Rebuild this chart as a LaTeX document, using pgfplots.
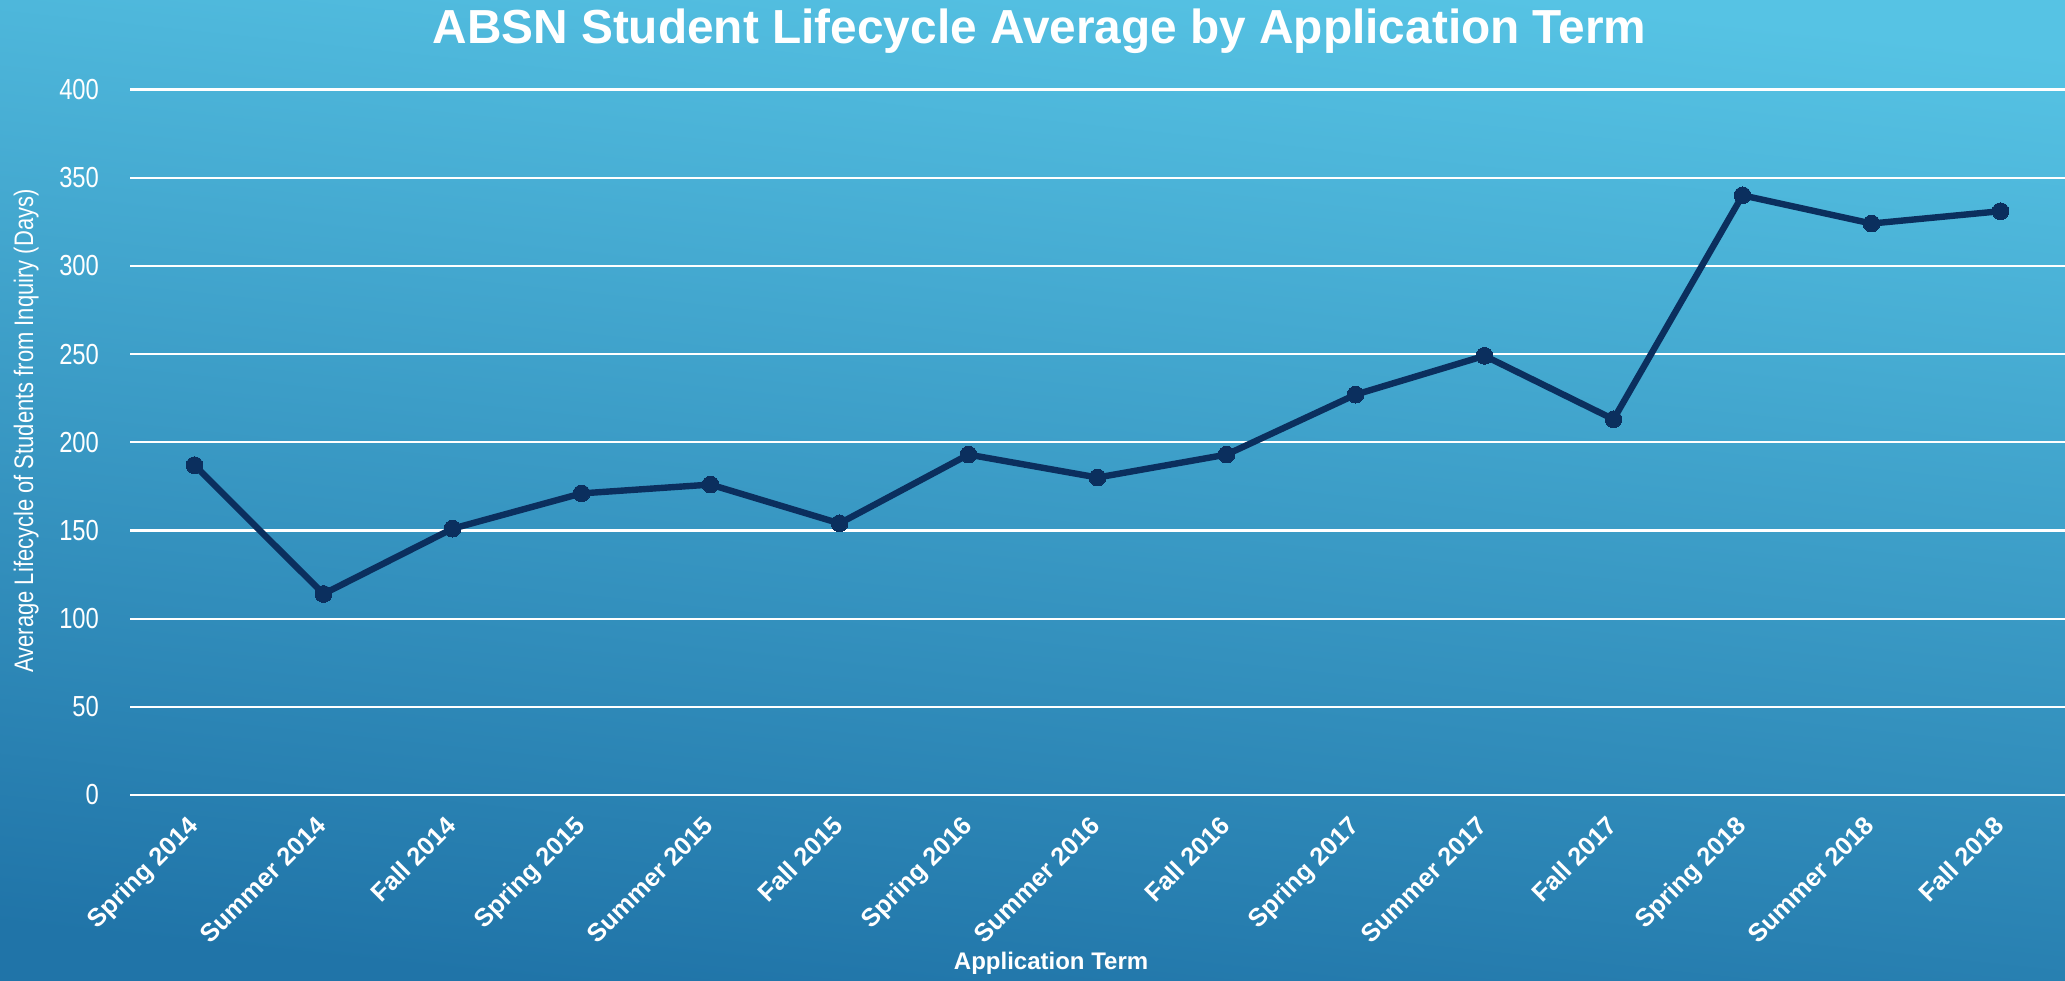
\documentclass[border=0pt]{standalone}
\usepackage{fontspec}
\setmainfont{Liberation Sans}
\newfontfamily\narrowfont[FakeStretch=0.82]{Liberation Sans}
\usepackage{pgfplots}
\pgfplotsset{compat=1.18}
\definecolor{bgtop}{RGB}{86,195,228}
\definecolor{bgbot}{RGB}{32,116,168}
\definecolor{linec}{RGB}{11,47,94}
\begin{document}
\begin{tikzpicture}
\useasboundingbox (0,0) rectangle (1032.5pt,490pt);
\shade[top color=bgtop, bottom color=bgbot, shading angle=-6] (0,0) rectangle (1032.5pt,490pt);
\begin{axis}[
  at={(65pt,92.5pt)}, anchor=south west,
  scale only axis, width=967.5pt, height=352.75pt,
  xmin=-0.5, xmax=14.5, ymin=0, ymax=400,
  ytick={0,50,...,400},
  xtick={0,...,14},
  xticklabels={Spring 2014,Summer 2014,Fall 2014,Spring 2015,Summer 2015,Fall 2015,Spring 2016,Summer 2016,Fall 2016,Spring 2017,Summer 2017,Fall 2017,Spring 2018,Summer 2018,Fall 2018},
  axis line style={draw=none},
  major tick length=0pt,
  ymajorgrids, grid style={white, line width=1.1pt},
  yticklabel style={font=\narrowfont\fontsize{14.5}{16}\selectfont, text=white, xshift=-12pt},
  xticklabel style={font=\bfseries\fontsize{12.7}{14}\selectfont, text=white, rotate=45, anchor=north east, yshift=-0.5pt, xshift=-6.5pt},
  /pgf/number format/assume math mode=true,
  ylabel={Average Lifecycle of Students from Inquiry (Days)},
  ylabel style={font=\narrowfont\fontsize{13.4}{15}\selectfont, text=white, at={(axis description cs:-0.0537,0.516)}, anchor=center},
  xlabel={Application Term},
  xlabel style={font=\bfseries\fontsize{12}{14}\selectfont, text=white, at={(axis description cs:0.476,-0.238)}, anchor=center},
  title={ABSN Student Lifecycle Average by Application Term},
  title style={font=\bfseries\fontsize{23.9}{26}\selectfont, text=white, at={(axis description cs:0.470,1.065)}, anchor=center, yshift=0pt},
  clip=false,
]
\addplot[color=linec, line width=3.2pt, mark=*, mark size=4.2pt, mark options={fill=linec, draw=linec, line width=0pt}]
coordinates {
(0,187) (1,114) (2,151) (3,171) (4,176) (5,154) (6,193) (7,180) (8,193) (9,227) (10,249) (11,213) (12,340) (13,324) (14,331)
};
\end{axis}
\end{tikzpicture}
\end{document}
